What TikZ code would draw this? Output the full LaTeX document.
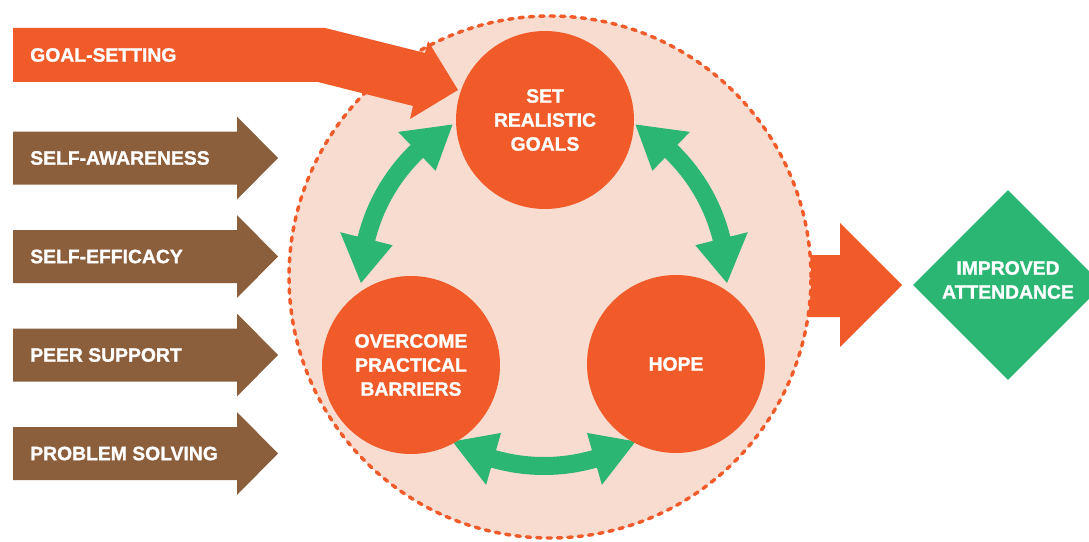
\documentclass[tikz,border=0pt]{standalone}
\usepackage{fontspec}
\setmainfont{Liberation Sans}[BoldFeatures={FakeBold=1.2}]
\usetikzlibrary{shapes.geometric}
\definecolor{flame}{HTML}{F15A29}
\definecolor{leaf}{HTML}{2BB673}
\definecolor{bark}{HTML}{8B5E3C}
\definecolor{blush}{HTML}{F9DCD0}

% curved two-headed arrow around a centre: #1 centre, #2 start angle, #3 end angle
\newcommand\twowayarc[3]{%
  \fill[leaf,shift={(#1)}]
    ({#2}:137.25pt) -- ({#2+14}:157.5pt) -- ({#2+14}:144pt)
    arc[start angle={#2+14}, end angle={#3-14}, radius=144pt]
    -- ({#3-14}:157.5pt) -- ({#3}:137.25pt) -- ({#3-14}:117pt) -- ({#3-14}:130.5pt)
    arc[start angle={#3-14}, end angle={#2+14}, radius=130.5pt]
    -- ({#2+14}:117pt) -- cycle;}

\begin{document}
\begin{tikzpicture}[x=0.75pt,y=-0.75pt,
  lbl/.style={text=white, font=\bfseries\fontsize{14.5}{18}\selectfont,
              inner sep=0pt, align=center},
  stage/.style={circle, fill=flame, minimum size=133.5pt, lbl},
  rimstyle/.style={circle, fill=blush, draw=flame, line width=2.6pt,
              line cap=round, dash pattern=on 3.2pt off 4.6pt,
              minimum size=391.5pt, inner sep=0pt},
  goalbox/.style={diamond, fill=leaf, minimum width=142.5pt,
              minimum height=142.5pt, inner sep=0pt}]
\useasboundingbox (0,0) rectangle (1089,542);

% outflow arrow, its tail hidden under the circle
\fill[flame] (780,255) -- (840,255) -- (840,223) -- (902,285)
  -- (840,347) -- (840,317) -- (780,317) -- cycle;

% dashed enclosing circle
\node[rimstyle] (rim) at (550,277) {};

% green cycle arrows
\coordinate (hub) at (544,283);
\twowayarc{hub}{120}{180}
\twowayarc{hub}{0}{60}
\twowayarc{hub}{240}{300}

% the three stages
\node[stage] (set)  at (545,120) {SET\\REALISTIC\\GOALS};
\node[stage] (over) at (411,365) {OVERCOME\\PRACTICAL\\BARRIERS};
\node[stage] (hope) at (676,364) {HOPE};

% goal-setting input arrow
\fill[flame] (13,28) -- (325,28) -- (425,53) -- (428,41) -- (458,90)
  -- (410,119) -- (413,106) -- (318,82) -- (13,82) -- cycle;
\node[lbl, anchor=west] (goal) at (30,55) {GOAL-SETTING};

% brown input arrows
\foreach \c/\n/\t in {158/aware/SELF-AWARENESS, 256.5/efficacy/SELF-EFFICACY,
                      355/peer/PEER SUPPORT, 453.5/solve/PROBLEM SOLVING}{
  \fill[bark] (13,{\c-26.5}) -- (237,{\c-26.5}) -- (237,{\c-41.5}) -- (278,\c)
    -- (237,{\c+41.5}) -- (237,{\c+26.5}) -- (13,{\c+26.5}) -- cycle;
  \node[lbl, anchor=west] (\n) at (30,\c) {\t};
}

% outcome
\node[goalbox] (result) at (1008,285) {};
\node[lbl] (resulttext) at (1008,280) {IMPROVED\\ATTENDANCE};
\end{tikzpicture}
\end{document}
